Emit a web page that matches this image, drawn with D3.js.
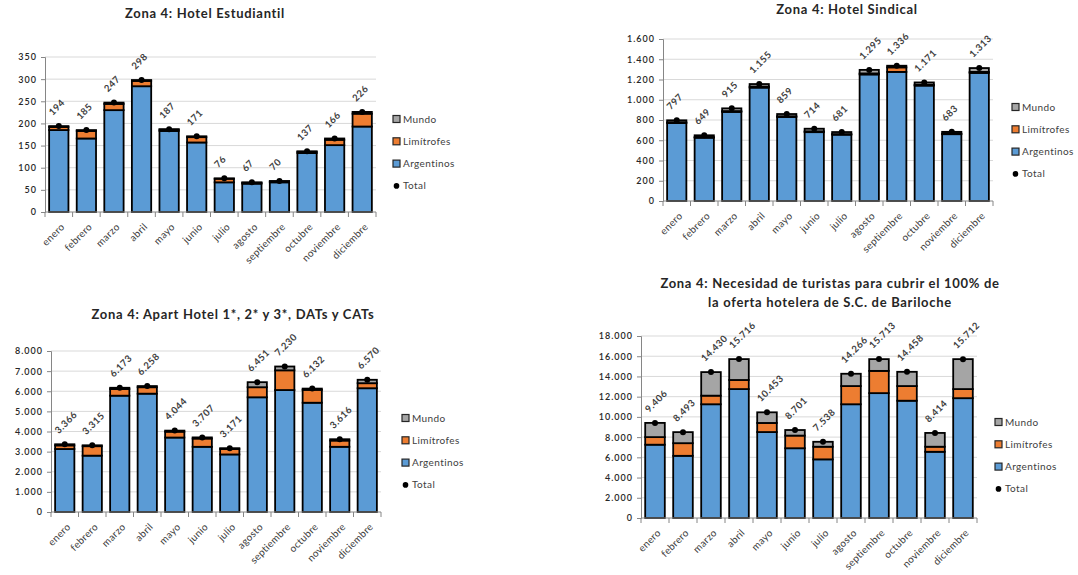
<!DOCTYPE html>
<html>
<head>
<meta charset="utf-8">
<script src="https://cdn.jsdelivr.net/npm/d3@7"></script>
<style>
  html, body { margin: 0; padding: 0; background: #ffffff; }
  svg { display: block; }
  text { font-family: Lato, "Open Sans", "Liberation Sans", sans-serif; }
</style>
</head>
<body>
<svg id="chart" width="1078" height="575"></svg>
<script>
// Months shared by all four panels
const months = ["enero", "febrero", "marzo", "abril", "mayo", "junio", "julio",
  "agosto", "septiembre", "octubre", "noviembre", "diciembre"];

const seriesNames = ["Mundo", "Limítrofes", "Argentinos", "Total"];

// Hotel Estudiantil
const estudiantilArgentinos = [185, 166, 230, 284, 183, 157, 67, 64, 67, 133, 151, 193];
const estudiantilLimitrofes = [7, 17, 14, 12, 3, 12, 8, 2, 2, 3, 12, 29];
const estudiantilMundo      = [2, 2, 3, 2, 1, 2, 1, 1, 1, 1, 3, 4];
const estudiantilTotal      = [194, 185, 247, 298, 187, 171, 76, 67, 70, 137, 166, 226];
const estudiantilTicks      = [0, 50, 100, 150, 200, 250, 300, 350];

// Hotel Sindical
const sindicalArgentinos = [770, 625, 880, 1120, 830, 680, 655, 1250, 1275, 1140, 660, 1265];
const sindicalLimitrofes = [7, 6, 8, 10, 7, 8, 6, 10, 45, 8, 5, 10];
const sindicalMundo      = [20, 18, 27, 25, 22, 26, 20, 35, 16, 23, 18, 38];
const sindicalTotal      = [797, 649, 915, 1155, 859, 714, 681, 1295, 1336, 1171, 683, 1313];
const sindicalTicks      = [0, 200, 400, 600, 800, 1000, 1200, 1400, 1600];

// Apart Hotel 1*, 2* y 3*, DATs y CATs
const apartArgentinos = [3130, 2800, 5780, 5880, 3700, 3240, 2860, 5700, 6060, 5430, 3240, 6150];
const apartLimitrofes = [180, 470, 330, 320, 290, 410, 270, 500, 980, 640, 310, 250];
const apartMundo      = [56, 45, 63, 58, 54, 57, 41, 251, 190, 62, 66, 170];
const apartTotal      = [3366, 3315, 6173, 6258, 4044, 3707, 3171, 6451, 7230, 6132, 3616, 6570];
const apartTicks      = [0, 1000, 2000, 3000, 4000, 5000, 6000, 7000, 8000];

// Turistas necesarios para cubrir el 100% de la oferta hotelera
const necesidadArgentinos = [7250, 6150, 11250, 12750, 8500, 6900, 5800, 11250, 12350, 11600, 6550, 11850];
const necesidadLimitrofes = [750, 1250, 850, 900, 900, 1250, 1250, 1800, 2200, 1450, 500, 900];
const necesidadMundo      = [1406, 1093, 2330, 2066, 1053, 551, 488, 1216, 1163, 1408, 1364, 2962];
const necesidadTotal      = [9406, 8493, 14430, 15716, 10453, 8701, 7538, 14266, 15713, 14458, 8414, 15712];
const necesidadTicks      = [0, 2000, 4000, 6000, 8000, 10000, 12000, 14000, 16000, 18000];

const colors = { Argentinos: "#5b9bd5", "Limítrofes": "#ed7d31", Mundo: "#a5a5a5" };

// Thousands separator "." as in es-AR
const esLocale = d3.formatLocale({ decimal: ",", thousands: ".", grouping: [3], currency: ["$", ""] });
const fmt = esLocale.format(",d");

const svg = d3.select("#chart");

function drawPanel(cfg) {
  const g = svg.append("g");
  const x = d3.scaleBand().domain(months).range([cfg.left, cfg.right]).paddingInner(0.3).paddingOuter(0.15);
  const y = d3.scaleLinear().domain([0, cfg.max]).range([cfg.bottom, cfg.top]);

  // Title
  cfg.title.forEach((line, i) => {
    g.append("text")
      .attr("x", cfg.titleX).attr("y", cfg.titleY + i * 19)
      .attr("text-anchor", "middle")
      .attr("font-size", 13).attr("font-weight", "bold").attr("fill", "#262626")
      .attr("letter-spacing", 0.7)
      .text(line);
  });

  // Gridlines
  g.append("g").selectAll("line").data(cfg.ticks.slice(1)).join("line")
    .attr("x1", cfg.left).attr("x2", cfg.right)
    .attr("y1", d => y(d)).attr("y2", d => y(d))
    .attr("stroke", "#d9d9d9").attr("stroke-width", 1);

  // Y axis
  const yAxis = d3.axisLeft(y).tickValues(cfg.ticks).tickFormat(fmt).tickSize(4).tickPadding(4);
  const ya = g.append("g").attr("transform", `translate(${cfg.left},0)`).call(yAxis);
  ya.select(".domain").attr("stroke", "#868686");
  ya.selectAll(".tick line").attr("stroke", "#868686");
  ya.selectAll(".tick text").attr("font-size", 9).attr("fill", "#262626")
    .attr("font-family", "Lato, sans-serif").attr("font-weight", 600).attr("letter-spacing", 1);

  // Stacked bars
  const rows = months.map((m, i) => ({
    month: m,
    Argentinos: cfg.arg[i], "Limítrofes": cfg.lim[i], Mundo: cfg.mun[i], total: cfg.total[i]
  }));
  const stack = d3.stack().keys(["Argentinos", "Limítrofes", "Mundo"])(rows);
  g.append("g").selectAll("g").data(stack).join("g")
    .attr("fill", d => colors[d.key])
    .selectAll("rect").data(d => d).join("rect")
      .attr("x", d => x(d.data.month))
      .attr("width", x.bandwidth())
      .attr("y", d => y(d[1]))
      .attr("height", d => y(d[0]) - y(d[1]))
      .attr("stroke", "#000").attr("stroke-width", 1.8);

  // X axis
  const xa = g.append("g").attr("transform", `translate(0,${cfg.bottom})`);
  xa.append("line").attr("x1", cfg.left).attr("x2", cfg.right).attr("stroke", "#868686");
  const step = (cfg.right - cfg.left) / months.length;
  xa.selectAll("line.tk").data(d3.range(months.length + 1)).join("line").attr("class", "tk")
    .attr("x1", i => cfg.left + i * step).attr("x2", i => cfg.left + i * step)
    .attr("y1", 0).attr("y2", 5).attr("stroke", "#868686");
  xa.selectAll("text").data(months).join("text")
    .attr("transform", m => `translate(${x(m) + x.bandwidth() / 2 + 4},${13}) rotate(-45)`)
    .attr("text-anchor", "end").attr("dy", "0.35em")
    .attr("font-size", 10).attr("fill", "#404040").attr("letter-spacing", 0.3)
    .text(m => m);

  // Total markers
  g.append("g").selectAll("circle").data(rows).join("circle")
    .attr("cx", d => x(d.month) + x.bandwidth() / 2)
    .attr("cy", d => y(d.total))
    .attr("r", 3).attr("fill", "#000");

  // Total value labels
  g.append("g").selectAll("text").data(rows).join("text")
    .attr("transform", d => `translate(${x(d.month) + x.bandwidth() / 2 - 6},${y(d.total) - 10}) rotate(-45)`)
    .attr("font-size", 9.5).attr("font-weight", "bold").attr("fill", "#404040").attr("letter-spacing", 0.5)
    .text(d => fmt(d.total));

  // Legend
  const lg = g.append("g").selectAll("g").data(seriesNames).join("g")
    .attr("transform", (d, i) => `translate(${cfg.legendX},${cfg.legendY + i * 22.3})`);
  lg.filter(d => d !== "Total").append("rect")
    .attr("x", 0).attr("y", -3.5).attr("width", 7).attr("height", 7)
    .attr("fill", d => colors[d]).attr("stroke", "#262626").attr("stroke-width", 1.2);
  lg.filter(d => d === "Total").append("circle")
    .attr("cx", 3.5).attr("cy", 0).attr("r", 2.8).attr("fill", "#000");
  lg.append("text").attr("x", 10).attr("dy", "0.35em")
    .attr("font-size", 10).attr("fill", "#404040").attr("letter-spacing", 0.4).text(d => d);
}

drawPanel({
  title: ["Zona 4: Hotel Estudiantil"], titleX: 205, titleY: 18,
  left: 45, right: 376, top: 57, bottom: 212, max: 350, ticks: estudiantilTicks,
  arg: estudiantilArgentinos, lim: estudiantilLimitrofes, mun: estudiantilMundo, total: estudiantilTotal,
  legendX: 393, legendY: 119
});

drawPanel({
  title: ["Zona 4: Hotel Sindical"], titleX: 847, titleY: 14,
  left: 663, right: 993, top: 39, bottom: 201, max: 1600, ticks: sindicalTicks,
  arg: sindicalArgentinos, lim: sindicalLimitrofes, mun: sindicalMundo, total: sindicalTotal,
  legendX: 1012, legendY: 107
});

drawPanel({
  title: ["Zona 4: Apart  Hotel 1*, 2* y 3*, DATs  y CATs"], titleX: 233, titleY: 319,
  left: 51, right: 381, top: 351, bottom: 512, max: 8000, ticks: apartTicks,
  arg: apartArgentinos, lim: apartLimitrofes, mun: apartMundo, total: apartTotal,
  legendX: 402, legendY: 418
});

drawPanel({
  title: ["Zona 4: Necesidad de turistas para cubrir el 100% de", "la oferta hotelera de S.C. de Bariloche"],
  titleX: 830, titleY: 288,
  left: 641, right: 977, top: 336, bottom: 518, max: 18000, ticks: necesidadTicks,
  arg: necesidadArgentinos, lim: necesidadLimitrofes, mun: necesidadMundo, total: necesidadTotal,
  legendX: 995, legendY: 422
});
</script>
</body>
</html>
